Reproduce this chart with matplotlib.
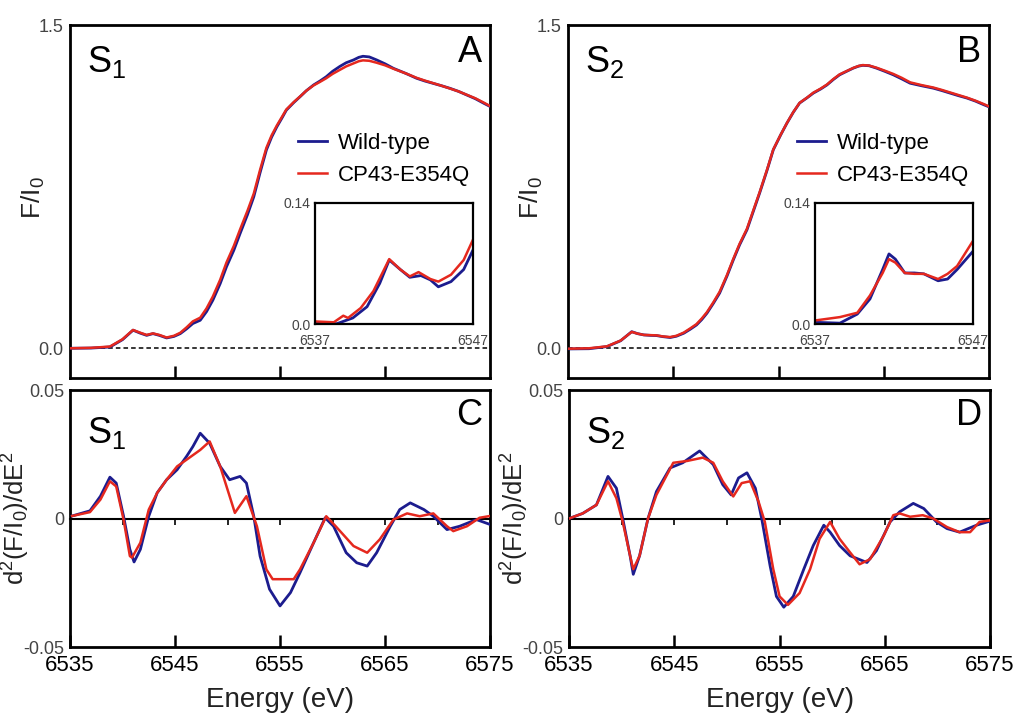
import numpy as np
from matplotlib import pyplot as plt

plt.rcParams['font.family'] = ['Liberation Sans', 'DejaVu Sans']
plt.rcParams['mathtext.fontset'] = 'custom'
plt.rcParams['mathtext.rm'] = 'Liberation Sans'
plt.rcParams['mathtext.it'] = 'Liberation Sans'
plt.rcParams['mathtext.default'] = 'regular'

blue = '#1c1c8e'
red = '#e5281e'
gray = '#444444'

### XANES DATA ###

# S1, top panel A
e_s1 = [6535.0, 6537.0, 6538.8, 6540.0, 6541.0, 6541.7, 6542.3, 6542.9, 6543.5, 6544.2,
        6544.9, 6545.5, 6546.1, 6546.7, 6547.4, 6548.0, 6548.6, 6549.3, 6549.9, 6550.6,
        6551.2, 6551.9, 6552.5, 6553.1, 6553.7, 6554.2, 6554.7, 6555.2, 6555.6, 6556.3,
        6556.9, 6557.5, 6558.2, 6558.8, 6559.4, 6560.0, 6560.7, 6561.3, 6562.0, 6562.5,
        6562.9, 6563.5, 6564.2, 6565.0, 6565.8, 6567.0, 6568.0, 6568.8, 6569.6, 6570.4,
        6571.2, 6572.0, 6572.8, 6573.6, 6574.4, 6575.0]
f_s1_wt = [0.000, 0.001, 0.006, 0.040, 0.084, 0.070, 0.060, 0.068, 0.060, 0.048,
           0.055, 0.068, 0.090, 0.115, 0.130, 0.170, 0.223, 0.300, 0.378, 0.455,
           0.533, 0.620, 0.703, 0.815, 0.920, 0.980, 1.028, 1.070, 1.105, 1.140,
           1.167, 1.195, 1.222, 1.240, 1.260, 1.285, 1.308, 1.325, 1.338, 1.350,
           1.355, 1.352, 1.338, 1.320, 1.299, 1.275, 1.253, 1.240, 1.229, 1.218,
           1.206, 1.192, 1.175, 1.158, 1.137, 1.122]
f_s1_mut = [0.000, 0.002, 0.008, 0.042, 0.085, 0.072, 0.062, 0.069, 0.062, 0.050,
            0.058, 0.072, 0.097, 0.125, 0.142, 0.185, 0.240, 0.318, 0.398, 0.475,
            0.552, 0.638, 0.718, 0.828, 0.930, 0.988, 1.034, 1.075, 1.108, 1.142,
            1.168, 1.195, 1.220, 1.236, 1.253, 1.273, 1.292, 1.308, 1.322, 1.332,
            1.336, 1.334, 1.325, 1.313, 1.297, 1.275, 1.255, 1.242, 1.230, 1.218,
            1.205, 1.192, 1.176, 1.160, 1.140, 1.124]

# S2, top panel B
e_s2 = [6535.0, 6537.0, 6538.7, 6540.0, 6541.05, 6541.6, 6542.2, 6542.8, 6543.4, 6544.0,
        6544.7, 6545.3, 6546.0, 6546.6, 6547.2, 6547.7, 6548.2, 6548.8, 6549.4, 6550.1,
        6550.7, 6551.3, 6552.0, 6552.6, 6553.2, 6553.9, 6554.5, 6555.2, 6555.8, 6556.4,
        6557.0, 6557.7, 6558.3, 6559.0, 6559.6, 6560.2, 6560.8, 6561.5, 6562.1, 6562.6,
        6563.0, 6563.6, 6564.3, 6565.1, 6565.9, 6566.7, 6567.5, 6568.6, 6569.7, 6570.5,
        6571.3, 6572.1, 6572.9, 6573.7, 6574.5, 6575.0]
f_s2_wt = [-0.003, -0.002, 0.008, 0.035, 0.077, 0.068, 0.062, 0.060, 0.059, 0.054,
           0.050, 0.056, 0.070, 0.088, 0.108, 0.133, 0.163, 0.208, 0.256, 0.335,
           0.410, 0.480, 0.550, 0.635, 0.720, 0.825, 0.921, 0.990, 1.045, 1.095,
           1.138, 1.162, 1.184, 1.203, 1.222, 1.247, 1.269, 1.286, 1.300, 1.309,
           1.313, 1.311, 1.300, 1.285, 1.269, 1.250, 1.230, 1.218, 1.207, 1.196,
           1.184, 1.172, 1.161, 1.147, 1.130, 1.120]
f_s2_mut = [-0.002, 0.000, 0.009, 0.036, 0.076, 0.068, 0.062, 0.061, 0.060, 0.055,
            0.052, 0.058, 0.073, 0.092, 0.112, 0.138, 0.168, 0.213, 0.262, 0.340,
            0.415, 0.485, 0.555, 0.640, 0.724, 0.828, 0.923, 0.991, 1.046, 1.096,
            1.139, 1.163, 1.186, 1.205, 1.224, 1.249, 1.271, 1.287, 1.301, 1.310,
            1.314, 1.312, 1.302, 1.288, 1.273, 1.255, 1.234, 1.221, 1.210, 1.199,
            1.187, 1.175, 1.163, 1.149, 1.133, 1.122]

# pre-edge insets
ei_s1_wt = [6537.0, 6538.4, 6539.4, 6540.3, 6541.1, 6541.7, 6542.4, 6543.0, 6543.7, 6544.3, 6544.8, 6545.6, 6546.4, 6547.0]
fi_s1_wt = [0.001, 0.0004, 0.007, 0.020, 0.047, 0.074, 0.063, 0.054, 0.056, 0.051, 0.043, 0.049, 0.063, 0.086]
ei_s1_mut = [6537.0, 6538.2, 6538.8, 6539.1, 6539.9, 6540.7, 6541.7, 6542.4, 6543.0, 6543.55, 6544.3, 6544.8, 6545.6, 6546.4, 6547.0]
fi_s1_mut = [0.003, 0.002, 0.0096, 0.007, 0.0185, 0.038, 0.075, 0.063, 0.055, 0.060, 0.052, 0.049, 0.057, 0.074, 0.098]

ei_s2_wt = [6537.0, 6538.6, 6539.7, 6540.5, 6541.3, 6541.7, 6542.1, 6542.7, 6543.3, 6543.9, 6544.8, 6545.4, 6546.0, 6547.0]
fi_s2_wt = [0.002, 0.001, 0.0115, 0.029, 0.063, 0.081, 0.075, 0.059, 0.059, 0.058, 0.050, 0.052, 0.063, 0.084]
ei_s2_mut = [6537.0, 6538.6, 6539.7, 6540.5, 6541.3, 6541.7, 6542.1, 6542.7, 6543.3, 6543.9, 6544.8, 6545.4, 6546.0, 6547.0]
fi_s2_mut = [0.004, 0.008, 0.013, 0.033, 0.059, 0.075, 0.071, 0.059, 0.058, 0.058, 0.052, 0.058, 0.067, 0.096]

# second derivatives, panel C (S1)
ed_s1_wt = [6535.2, 6536.9, 6537.9, 6538.8, 6539.4, 6540.1, 6540.7, 6541.1, 6541.7, 6542.5,
            6543.3, 6544.2, 6545.2, 6546.1, 6546.7, 6547.4, 6548.3, 6549.3, 6550.2, 6551.2,
            6551.8, 6552.5, 6553.1, 6554.0, 6555.0, 6556.0, 6556.9, 6558.2, 6559.3, 6560.1,
            6561.3, 6562.3, 6563.3, 6564.2, 6565.5, 6566.4, 6567.4, 6568.7, 6569.6, 6570.9,
            6572.1, 6573.7, 6575.0]
d_s1_wt = [0.001, 0.003, 0.0087, 0.0161, 0.0138, 0.0009, -0.012, -0.0169, -0.012, 0.0009,
           0.010, 0.0151, 0.019, 0.0242, 0.028, 0.0332, 0.0293, 0.0203, 0.0151, 0.0164,
           0.0138, 0.0009, -0.0146, -0.0275, -0.034, -0.0288, -0.0211, -0.0094, 0.0003, -0.003,
           -0.0133, -0.0172, -0.0185, -0.0133, -0.003, 0.0035, 0.0061, 0.0035, 0.0009, -0.0043,
           -0.003, -0.0004, -0.0023]
ed_s1_mut = [6535.2, 6536.9, 6537.9, 6538.8, 6539.4, 6540.1, 6540.7, 6540.9, 6541.7, 6542.5,
             6543.3, 6544.2, 6545.2, 6546.1, 6547.4, 6548.3, 6549.3, 6550.2, 6550.7, 6551.8,
             6552.8, 6553.7, 6554.3, 6555.3, 6556.3, 6556.9, 6558.2, 6559.4, 6560.3, 6562.0,
             6563.3, 6564.5, 6565.8, 6567.1, 6568.3, 6569.6, 6570.9, 6571.5, 6572.8, 6574.0,
             6575.0]
d_s1_mut = [0.001, 0.0025, 0.0074, 0.0145, 0.0125, -0.0004, -0.0146, -0.0152, -0.0094, 0.0035,
            0.010, 0.0151, 0.0203, 0.0229, 0.0267, 0.030, 0.0203, 0.0087, 0.0022, 0.0087,
            -0.003, -0.0198, -0.0236, -0.0236, -0.0236, -0.0198, -0.0094, 0.0009, -0.003, -0.0107,
            -0.0133, -0.0081, -0.0004, 0.002, 0.0009, 0.002, -0.003, -0.0049, -0.003, 0.0003,
            0.001]

# second derivatives, panel D (S2)
ed_s2_wt = [6535.0, 6536.3, 6537.6, 6538.7, 6539.5, 6540.1, 6540.8, 6541.1, 6541.7, 6542.5,
            6543.3, 6544.6, 6545.8, 6547.4, 6548.7, 6549.6, 6550.4, 6551.1, 6551.9, 6552.7,
            6553.3, 6554.1, 6554.7, 6555.4, 6556.3, 6557.3, 6558.2, 6559.2, 6559.8, 6560.7,
            6561.7, 6562.5, 6563.3, 6564.2, 6565.5, 6566.4, 6567.7, 6568.7, 6569.9, 6570.9,
            6572.1, 6573.7, 6575.0]
d_s2_wt = [0.0, 0.002, 0.0053, 0.0164, 0.0118, 0.0, -0.0145, -0.0217, -0.0145, 0.0,
           0.0105, 0.0197, 0.0217, 0.0263, 0.021, 0.0132, 0.0092, 0.0158, 0.0178, 0.0118,
           0.0, -0.0184, -0.0303, -0.0345, -0.0303, -0.0197, -0.0105, -0.0026, -0.0053, -0.0105,
           -0.0145, -0.0158, -0.0171, -0.0125, -0.0013, 0.0026, 0.0059, 0.0039, -0.0013, -0.0039,
           -0.0053, -0.0026, -0.001]
ed_s2_mut = [6535.0, 6536.3, 6537.6, 6538.7, 6539.5, 6540.1, 6540.8, 6541.1, 6541.7, 6542.5,
             6543.3, 6544.9, 6546.2, 6547.7, 6548.7, 6549.6, 6550.6, 6551.4, 6552.2, 6553.0,
             6553.6, 6554.4, 6555.0, 6555.8, 6556.9, 6557.9, 6558.8, 6559.8, 6560.7, 6561.7,
             6562.6, 6563.6, 6564.9, 6565.8, 6566.4, 6567.4, 6568.6, 6569.6, 6570.9, 6572.1,
             6573.1, 6574.0, 6575.0]
d_s2_mut = [0.0, 0.002, 0.0053, 0.0145, 0.0079, -0.0013, -0.0145, -0.0197, -0.0145, 0.0,
            0.0092, 0.0217, 0.0224, 0.0237, 0.0217, 0.0145, 0.0086, 0.0138, 0.0145, 0.0066,
            -0.0013, -0.0197, -0.0303, -0.0336, -0.029, -0.0197, -0.0079, -0.0013, -0.0079, -0.0132,
            -0.0178, -0.0158, -0.0066, 0.0013, 0.002, 0.0007, 0.0013, 0.0, -0.0033, -0.0053,
            -0.0053, -0.0013, -0.0007]

xticks_lab = [6535, 6545, 6555, 6565, 6575]

### FIGURE ###

fig = plt.figure(figsize=(10.22, 7.21), dpi=100)

ax_a = fig.add_axes([0.0685, 0.4757, 0.411, 0.4896])
ax_b = fig.add_axes([0.5558, 0.4757, 0.412, 0.4896])
ax_c = fig.add_axes([0.0685, 0.1026, 0.411, 0.3564])
ax_d = fig.add_axes([0.5568, 0.1026, 0.412, 0.3564])


def style_box(ax, lw=2.0):
    for sp in ax.spines.values():
        sp.set_linewidth(lw)
        sp.set_color('black')


# top panels
for ax, e, fwt, fmut, sname, letter in [(ax_a, e_s1, f_s1_wt, f_s1_mut, r'S$_1$', 'A'),
                                        (ax_b, e_s2, f_s2_wt, f_s2_mut, r'S$_2$', 'B')]:
    style_box(ax)
    ax.axhline(0, color='black', lw=1.1, ls=(0, (3, 2)), zorder=1)
    ax.plot(e, fwt, color=blue, lw=2.0, label='Wild-type', zorder=3)
    ax.plot(e, fmut, color=red, lw=1.8, label='CP43-E354Q', zorder=4)
    ax.set_xlim(6535, 6575)
    ax.set_ylim(-0.138, 1.5)
    ax.set_xticks([6545, 6555, 6565])
    ax.set_xticklabels([])
    ax.tick_params(axis='x', direction='in', length=9, width=1.8)
    ax.set_yticks([0.0, 1.5])
    ax.set_yticklabels(['0.0', '1.5'])
    ax.tick_params(axis='y', length=0, pad=5, labelsize=13, labelcolor=gray)
    ax.set_ylabel(r'F/I$_0$', fontsize=19, color='#222222')
    ax.yaxis.set_label_coords(-0.055, 0.51)
    ax.text(0.04, 0.867, sname, transform=ax.transAxes, fontsize=26, va='baseline')
    ax.text(0.981, 0.895, letter, transform=ax.transAxes, fontsize=26, va='baseline', ha='right')
    ax.legend(loc='upper left', bbox_to_anchor=(0.522, 0.72), frameon=False, fontsize=16,
              handlelength=1.3, handletextpad=0.5, labelspacing=0.5, borderaxespad=0)

# insets
for left, ew, fw, em, fm in [(0.308, ei_s1_wt, fi_s1_wt, ei_s1_mut, fi_s1_mut),
                             (0.797, ei_s2_wt, fi_s2_wt, ei_s2_mut, fi_s2_mut)]:
    ins = fig.add_axes([left, 0.5506, 0.155, 0.168])
    style_box(ins, 1.6)
    ins.plot(ew, fw, color=blue, lw=2.0)
    ins.plot(em, fm, color=red, lw=1.8)
    ins.set_xlim(6537, 6547)
    ins.set_ylim(0, 0.14)
    ins.set_xticks([6537, 6547])
    ins.set_yticks([0.0, 0.14])
    ins.set_yticklabels(['0.0', '0.14'])
    ins.tick_params(axis='y', length=0, pad=3, labelsize=10, labelcolor=gray)
    ins.tick_params(axis='x', length=0, pad=7, labelsize=10, labelcolor=gray)

# bottom panels
for ax, ew, dw, em, dm, sname, letter in [(ax_c, ed_s1_wt, d_s1_wt, ed_s1_mut, d_s1_mut, r'S$_1$', 'C'),
                                          (ax_d, ed_s2_wt, d_s2_wt, ed_s2_mut, d_s2_mut, r'S$_2$', 'D')]:
    style_box(ax)
    ax.plot(ew, dw, color=blue, lw=2.0, zorder=3)
    ax.plot(em, dm, color=red, lw=1.8, zorder=4)
    ax.set_xlim(6535, 6575)
    ax.set_ylim(-0.05, 0.05)
    ax.set_xticks(xticks_lab)
    ax.tick_params(axis='x', direction='in', length=9, width=1.8, labelsize=16, pad=6)
    ax.set_yticks([-0.05, 0, 0.05])
    ax.set_yticklabels(['-0.05', '0', '0.05'])
    ax.tick_params(axis='y', length=0, pad=4, labelsize=13, labelcolor=gray)
    # zero line with small ticks
    zl = ax.secondary_xaxis(0.5)
    zl.spines['top'].set_linewidth(1.5)
    zl.set_xticks(np.arange(6540, 6575, 5))
    zl.set_xticklabels([])
    zl.tick_params(direction='in', length=4, width=1.2)
    ax.set_xlabel('Energy (eV)', fontsize=20, color='#222222', labelpad=8)
    ax.set_ylabel(r'd$^2$(F/I$_0$)/dE$^2$', fontsize=18.5, color='#222222')
    ax.yaxis.set_label_coords(-0.09, 0.5)
    ax.text(0.04, 0.794, sname, transform=ax.transAxes, fontsize=26, va='baseline')
    ax.text(0.982, 0.864, letter, transform=ax.transAxes, fontsize=26, va='baseline', ha='right')

plt.savefig('out.png', dpi=100)
